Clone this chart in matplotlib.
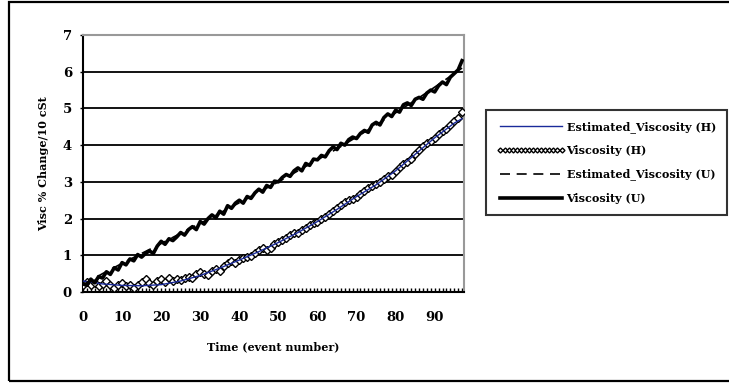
import numpy as np
import matplotlib.pyplot as plt
from matplotlib.patches import Rectangle
from matplotlib.ticker import MultipleLocator

# event numbers
events = list(range(0, 98))

# measured viscosity change, used oil (U)
visc_u = [0.22, 0.18, 0.35, 0.25, 0.42, 0.38, 0.55, 0.48, 0.66, 0.60,
          0.80, 0.74, 0.90, 0.85, 1.02, 0.95, 1.05, 1.12, 1.05, 1.25,
          1.38, 1.30, 1.45, 1.40, 1.50, 1.62, 1.55, 1.70, 1.78, 1.70,
          1.92, 1.85, 2.00, 2.10, 2.02, 2.20, 2.12, 2.35, 2.28, 2.42,
          2.50, 2.42, 2.60, 2.55, 2.70, 2.80, 2.72, 2.90, 2.85, 3.02,
          3.00, 3.12, 3.20, 3.15, 3.30, 3.38, 3.30, 3.50, 3.45, 3.62,
          3.60, 3.72, 3.68, 3.85, 3.95, 3.88, 4.05, 4.00, 4.15, 4.22,
          4.18, 4.32, 4.40, 4.35, 4.55, 4.62, 4.55, 4.75, 4.85, 4.78,
          4.95, 4.90, 5.10, 5.15, 5.08, 5.25, 5.30, 5.25, 5.42, 5.50,
          5.45, 5.62, 5.72, 5.65, 5.85, 5.95, 6.05, 6.30]

# measured viscosity change (H)
visc_h = [0.20, 0.28, 0.18, 0.25, 0.15, 0.22, 0.30, 0.20, 0.12, 0.20,
          0.25, 0.15, 0.20, 0.10, 0.18, 0.28, 0.35, 0.25, 0.20, 0.30,
          0.35, 0.28, 0.38, 0.30, 0.35, 0.32, 0.38, 0.42, 0.38, 0.50,
          0.55, 0.50, 0.45, 0.58, 0.62, 0.58, 0.72, 0.78, 0.85, 0.80,
          0.88, 0.92, 0.95, 0.98, 1.05, 1.15, 1.20, 1.15, 1.20, 1.30,
          1.35, 1.42, 1.48, 1.55, 1.60, 1.62, 1.70, 1.75, 1.83, 1.88,
          1.92, 1.98, 2.05, 2.12, 2.20, 2.30, 2.38, 2.45, 2.50, 2.52,
          2.60, 2.68, 2.75, 2.82, 2.90, 2.95, 3.00, 3.08, 3.15, 3.20,
          3.30, 3.40, 3.48, 3.55, 3.62, 3.75, 3.88, 3.98, 4.05, 4.10,
          4.20, 4.30, 4.38, 4.45, 4.55, 4.65, 4.75, 4.90]

# estimated curves
est_events = [0, 5, 10, 15, 20, 25, 30, 35, 40, 45, 50, 55, 60, 65, 70, 75, 80, 85, 90, 95, 97]
est_h = [0.30, 0.22, 0.18, 0.17, 0.20, 0.30, 0.45, 0.65, 0.87, 1.10, 1.35,
         1.62, 1.92, 2.25, 2.60, 2.92, 3.30, 3.75, 4.20, 4.60, 4.72]
est_u = [0.20, 0.50, 0.78, 1.05, 1.32, 1.60, 1.87, 2.15, 2.43, 2.72, 3.00,
         3.30, 3.60, 3.90, 4.22, 4.55, 4.88, 5.22, 5.58, 5.95, 6.10]

labels = ['Estimated_Viscosity (H)', 'Viscosity (H)', 'Estimated_Viscosity (U)', 'Viscosity (U)']

plt.rcParams['font.family'] = 'DejaVu Serif'
plt.rcParams['font.weight'] = 'bold'

fig = plt.figure(figsize=(7.29, 3.83), dpi=100)
ax = fig.add_axes([83/729, 1 - 292/383, 381/729, 257/383])

# outer frame
fig.patches.append(Rectangle((9/729, 1 - 380.5/383), 1.2, 379/383, transform=fig.transFigure,
                             fill=False, edgecolor='black', linewidth=1.6))

for yv in range(1, 7):
    ax.axhline(yv, color='black', lw=1.3, zorder=1)

l2, = ax.plot(events, visc_h, color='black', lw=0.9, marker='D', markersize=4.2,
              markerfacecolor='white', markeredgecolor='black', markeredgewidth=1.0, zorder=3)
l1, = ax.plot(est_events, est_h, color='#1a2a9a', lw=1.0, zorder=4)
l4, = ax.plot(events, visc_u, color='black', lw=2.6, zorder=5)
l3, = ax.plot(est_events, est_u, color='black', lw=1.2, dashes=(6, 4), zorder=4)

ax.set_xlim(0, 97.5)
ax.set_ylim(0, 7)
ax.xaxis.set_major_locator(MultipleLocator(10))
ax.xaxis.set_minor_locator(MultipleLocator(1))
ax.yaxis.set_major_locator(MultipleLocator(1))
ax.tick_params(axis='x', which='both', direction='in', length=3, width=1, pad=14, labelsize=9.5)
ax.tick_params(axis='y', which='major', direction='out', length=2, width=1, pad=6, labelsize=9.5)

for side in ['left', 'bottom']:
    ax.spines[side].set_color('black')
    ax.spines[side].set_linewidth(1.5)
for side in ['top', 'right']:
    ax.spines[side].set_color('#999999')
    ax.spines[side].set_linewidth(1.5)

ax.set_xlabel('Time (event number)', fontsize=8, fontweight='bold', labelpad=12)
ax.set_ylabel('Visc % Change/10 cSt', fontsize=8, fontweight='bold', labelpad=10)

leg = fig.legend([l1, l2, l3, l4], labels, loc='upper left', bbox_to_anchor=(486/729, 1 - 110/383),
                 prop={'size': 8, 'weight': 'bold'}, handlelength=6.1, handletextpad=0.15,
                 labelspacing=1.1, borderpad=1.0, borderaxespad=0, frameon=True, fancybox=False,
                 edgecolor='black', numpoints=16, markerscale=0.6)
leg.get_frame().set_linewidth(1.5)

fig.savefig('out.png', dpi=100)
